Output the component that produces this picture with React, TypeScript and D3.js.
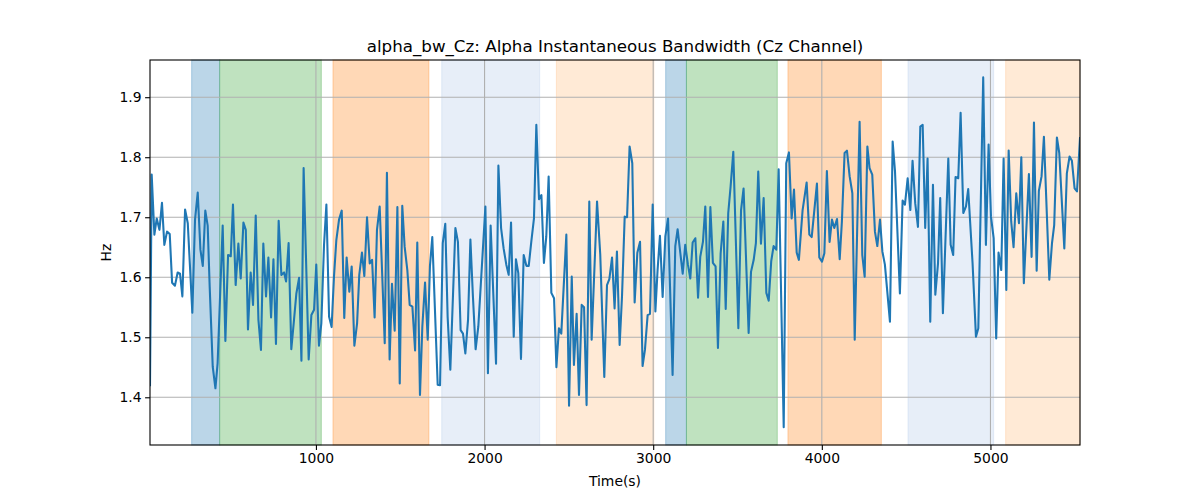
import React, { useEffect, useRef } from 'react';
import * as d3 from 'd3';

// sample times (s) and instantaneous alpha bandwidth (Hz)
const times = [
  16, 26, 42, 56, 72, 87, 101, 117, 133, 147, 164, 180, 194, 208, 224, 240, 267, 283, 299, 315,
  329, 344, 358, 370, 388, 404, 417, 447, 463, 479, 495, 508, 524, 540, 554, 570, 584, 597, 613, 627,
  643, 659, 674, 688, 704, 718, 734, 748, 763, 779, 795, 811, 823, 838, 854, 870, 884, 900, 914, 927,
  957, 973, 989, 1002, 1018, 1032, 1048, 1062, 1078, 1093, 1107, 1121, 1137, 1153, 1168, 1182, 1198, 1212, 1228, 1244,
  1257, 1273, 1287, 1303, 1319, 1333, 1348, 1362, 1378, 1408, 1421, 1437, 1451, 1467, 1483, 1497, 1512, 1526, 1542, 1556,
  1572, 1588, 1601, 1617, 1631, 1647, 1663, 1676, 1690, 1722, 1736, 1752, 1767, 1781, 1797, 1827, 1842, 1858,
  1872, 1886, 1902, 1916, 1931, 1947, 1963, 2005, 2020, 2036, 2068, 2082, 2098, 2113, 2129, 2143, 2157, 2173, 2186, 2200,
  2216, 2232, 2248, 2262, 2277, 2293, 2307, 2323, 2337, 2352, 2366, 2380, 2396, 2412, 2426, 2441, 2455, 2485, 2501, 2517,
  2530, 2546, 2560, 2576, 2590, 2605, 2621, 2635, 2667, 2686, 2710, 2726, 2740, 2756, 2771, 2785,
  2801, 2815, 2831, 2845, 2860, 2876, 2890, 2906, 2922, 2937, 2951, 2967, 2981, 2997, 3013, 3026, 3040, 3056, 3072, 3088,
  3115, 3131, 3145, 3161, 3175, 3190, 3206, 3220, 3234, 3250, 3266, 3279, 3295, 3309, 3325, 3339, 3354, 3370, 3384, 3400,
  3416, 3430, 3445, 3459, 3475, 3505, 3521, 3536, 3566, 3580, 3596, 3609, 3623, 3639, 3655, 3671, 3685, 3700,
  3714, 3730, 3744, 3774, 3789, 3805, 3821, 3835, 3851, 3864, 3886, 3910, 3926, 3940, 3971, 3985, 4001, 4015, 4030, 4046,
  4060, 4074, 4090, 4106, 4119, 4135, 4149, 4165, 4181, 4195, 4224, 4240, 4254, 4270, 4283, 4299, 4315, 4329, 4345, 4359,
  4374, 4404, 4420, 4434, 4463, 4479, 4493, 4509, 4525, 4538, 4554, 4570, 4584, 4598,
  4613, 4627, 4643, 4659, 4673, 4689, 4702, 4718, 4750, 4764, 4779, 4793, 4809, 4823, 4839, 4855, 4868, 4894, 4914, 4928,
  4957, 4973, 4989, 5003, 5019, 5034, 5048, 5064, 5078, 5094, 5108, 5123, 5137, 5153, 5169, 5183, 5198, 5228, 5244, 5258,
  5274, 5287, 5303, 5317, 5349, 5365, 5378, 5394, 5408, 5438, 5453, 5469, 5483, 5499, 5513, 5531,
];

const bandwidth = [
  1.42, 1.771, 1.671, 1.698, 1.679, 1.724, 1.654, 1.676, 1.672, 1.591, 1.586, 1.608, 1.606, 1.568, 1.713, 1.69, 1.541, 1.696, 1.741, 1.646,
  1.619, 1.711, 1.686, 1.584, 1.451, 1.415, 1.457, 1.686, 1.494, 1.637, 1.635, 1.721, 1.587, 1.656, 1.598, 1.691, 1.679, 1.513, 1.608, 1.554,
  1.703, 1.529, 1.479, 1.656, 1.568, 1.633, 1.533, 1.63, 1.489, 1.694, 1.604, 1.608, 1.593, 1.657, 1.48, 1.529, 1.573, 1.599, 1.461, 1.782,
  1.463, 1.537, 1.546, 1.621, 1.486, 1.523, 1.654, 1.721, 1.534, 1.517, 1.601, 1.662, 1.696, 1.711, 1.532, 1.633, 1.576, 1.618, 1.486, 1.523,
  1.604, 1.641, 1.602, 1.7, 1.623, 1.629, 1.533, 1.679, 1.718, 1.49, 1.774, 1.463, 1.589, 1.511, 1.717, 1.423, 1.719, 1.651, 1.612, 1.554,
  1.551, 1.478, 1.658, 1.404, 1.518, 1.591, 1.496, 1.618, 1.667, 1.421, 1.42, 1.657, 1.689, 1.534, 1.446, 1.682, 1.659, 1.512,
  1.506, 1.473, 1.529, 1.663, 1.568, 1.48, 1.518, 1.718, 1.44, 1.686, 1.456, 1.786, 1.682, 1.648, 1.621, 1.604, 1.691, 1.501, 1.63, 1.607,
  1.464, 1.637, 1.619, 1.619, 1.659, 1.698, 1.854, 1.73, 1.737, 1.624, 1.668, 1.768, 1.574, 1.565, 1.45, 1.515, 1.506, 1.671, 1.386, 1.601,
  1.454, 1.539, 1.404, 1.554, 1.55, 1.387, 1.726, 1.496, 1.726, 1.638, 1.434, 1.587, 1.597, 1.633, 1.548, 1.643,
  1.487, 1.568, 1.701, 1.7, 1.818, 1.79, 1.558, 1.641, 1.659, 1.452, 1.479, 1.537, 1.539, 1.721, 1.543, 1.612, 1.669, 1.567, 1.668, 1.698,
  1.437, 1.652, 1.68, 1.64, 1.606, 1.654, 1.621, 1.598, 1.658, 1.665, 1.566, 1.634, 1.659, 1.718, 1.567, 1.717, 1.624, 1.618, 1.482, 1.64,
  1.693, 1.547, 1.707, 1.751, 1.809, 1.515, 1.712, 1.748, 1.507, 1.609, 1.629, 1.657, 1.776, 1.656, 1.732, 1.574, 1.561, 1.627,
  1.652, 1.646, 1.78, 1.35, 1.79, 1.808, 1.698, 1.746, 1.641, 1.629, 1.712, 1.758, 1.671, 1.667, 1.756, 1.633, 1.626, 1.64, 1.777, 1.659,
  1.696, 1.682, 1.697, 1.63, 1.693, 1.807, 1.811, 1.768, 1.74, 1.496, 1.859, 1.637, 1.601, 1.818, 1.782, 1.771, 1.676, 1.652, 1.696, 1.643,
  1.621, 1.526, 1.826, 1.776, 1.573, 1.728, 1.721, 1.765, 1.712, 1.794, 1.723, 1.684, 1.851, 1.854,
  1.682, 1.798, 1.526, 1.754, 1.571, 1.623, 1.732, 1.54, 1.798, 1.654, 1.637, 1.767, 1.765, 1.874, 1.707, 1.718, 1.747, 1.623, 1.501, 1.515,
  1.933, 1.654, 1.821, 1.701, 1.665, 1.498, 1.641, 1.612, 1.798, 1.579, 1.811, 1.693, 1.65, 1.74, 1.69, 1.8, 1.59, 1.772, 1.634, 1.858,
  1.611, 1.744, 1.768, 1.834, 1.596, 1.657, 1.687, 1.833, 1.807, 1.648, 1.773, 1.801, 1.794, 1.748, 1.743, 1.832,
];

// shaded phases (s)
const phaseStart = [263, 429, 1101, 1746, 2426, 3074, 3197, 3799, 4511, 5090];
const phaseEnd = [429, 1032, 1670, 2327, 3004, 3197, 3736, 4353, 5019, 5531];
const phaseKind = [0, 1, 2, 3, 4, 0, 1, 2, 3, 4];

const xTicks = [1000, 2000, 3000, 4000, 5000];
const yTicks = [1.4, 1.5, 1.6, 1.7, 1.8, 1.9];

const kindColors = ['#1f77b4', '#2ca02c', '#ff7f0e', '#aec7e8', '#ffbb78'];

const W = 1200;
const H = 500;
const margin = { top: 60, right: 120, bottom: 55, left: 150 };
const font = 'DejaVu Sans, sans-serif';

const App: React.FC = () => {
  const ref = useRef<SVGSVGElement>(null);

  useEffect(() => {
    const svg = d3.select(ref.current);
    svg.selectAll('*').remove();

    const width = W - margin.left - margin.right;
    const height = H - margin.top - margin.bottom;

    const x = d3.scaleLinear().domain([16, 5531]).range([0, width]);
    const y = d3.scaleLinear().domain([1.3205, 1.962]).range([height, 0]);

    svg.append('rect').attr('width', W).attr('height', H).attr('fill', '#fff');

    const g = svg.append('g').attr('transform', `translate(${margin.left},${margin.top})`);

    // phase bands
    g.selectAll('.phase')
      .data(phaseStart.map((s, i) => ({ s, e: phaseEnd[i], k: phaseKind[i] })))
      .enter().append('rect')
      .attr('class', 'phase')
      .attr('x', d => x(d.s))
      .attr('y', 0)
      .attr('width', d => x(d.e) - x(d.s))
      .attr('height', height)
      .attr('fill', d => kindColors[d.k])
      .attr('fill-opacity', 0.3)
      .attr('stroke', d => kindColors[d.k])
      .attr('stroke-opacity', 0.3)
      .attr('stroke-width', 1);

    // grid
    g.selectAll('.gx')
      .data(xTicks)
      .enter().append('line')
      .attr('x1', d => x(d)).attr('x2', d => x(d))
      .attr('y1', 0).attr('y2', height)
      .attr('stroke', '#b0b0b0').attr('stroke-width', 1.1);
    g.selectAll('.gy')
      .data(yTicks)
      .enter().append('line')
      .attr('y1', d => y(d)).attr('y2', d => y(d))
      .attr('x1', 0).attr('x2', width)
      .attr('stroke', '#b0b0b0').attr('stroke-width', 1.1);

    // series
    const line = d3.line<number>()
      .x((_, i) => x(times[i]))
      .y(d => y(d));

    const clip = svg.append('clipPath').attr('id', 'plot-clip');
    clip.append('rect').attr('width', width).attr('height', height);

    g.append('path')
      .datum(bandwidth)
      .attr('d', line)
      .attr('clip-path', 'url(#plot-clip)')
      .attr('fill', 'none')
      .attr('stroke', '#1f77b4')
      .attr('stroke-width', 2.08)
      .attr('stroke-linejoin', 'round')
      .attr('stroke-linecap', 'square');

    // axes
    const xAxis = g.append('g')
      .attr('transform', `translate(0,${height})`)
      .call(d3.axisBottom(x).tickValues(xTicks).tickSize(4.9).tickPadding(3.5).tickFormat(d3.format('d')));
    const yAxis = g.append('g')
      .call(d3.axisLeft(y).tickValues(yTicks).tickSize(4.9).tickPadding(3.5).tickFormat(d3.format('.1f')));

    [xAxis, yAxis].forEach(a => {
      a.select('.domain').remove();
      a.selectAll('line').attr('stroke', '#000').attr('stroke-width', 1.1);
      a.selectAll('text').attr('fill', '#000').style('font-family', font).style('font-size', '13.9px');
    });

    // frame
    g.append('rect')
      .attr('width', width).attr('height', height)
      .attr('fill', 'none').attr('stroke', '#000').attr('stroke-width', 1.1);

    svg.append('text')
      .attr('x', margin.left + width / 2).attr('y', 52)
      .attr('text-anchor', 'middle')
      .style('font-family', font).style('font-size', '16.7px')
      .text('alpha_bw_Cz: Alpha Instantaneous Bandwidth (Cz Channel)');

    svg.append('text')
      .attr('x', margin.left + width / 2).attr('y', 486)
      .attr('text-anchor', 'middle')
      .style('font-family', font).style('font-size', '13.9px')
      .text('Time(s)');

    svg.append('text')
      .attr('transform', `translate(111,${margin.top + height / 2}) rotate(-90)`)
      .attr('text-anchor', 'middle')
      .style('font-family', font).style('font-size', '13.9px')
      .text('Hz');
  }, []);

  return <svg ref={ref} width={W} height={H} style={{ position: 'absolute', left: 0, top: 0 }} />;
};

export default App;
